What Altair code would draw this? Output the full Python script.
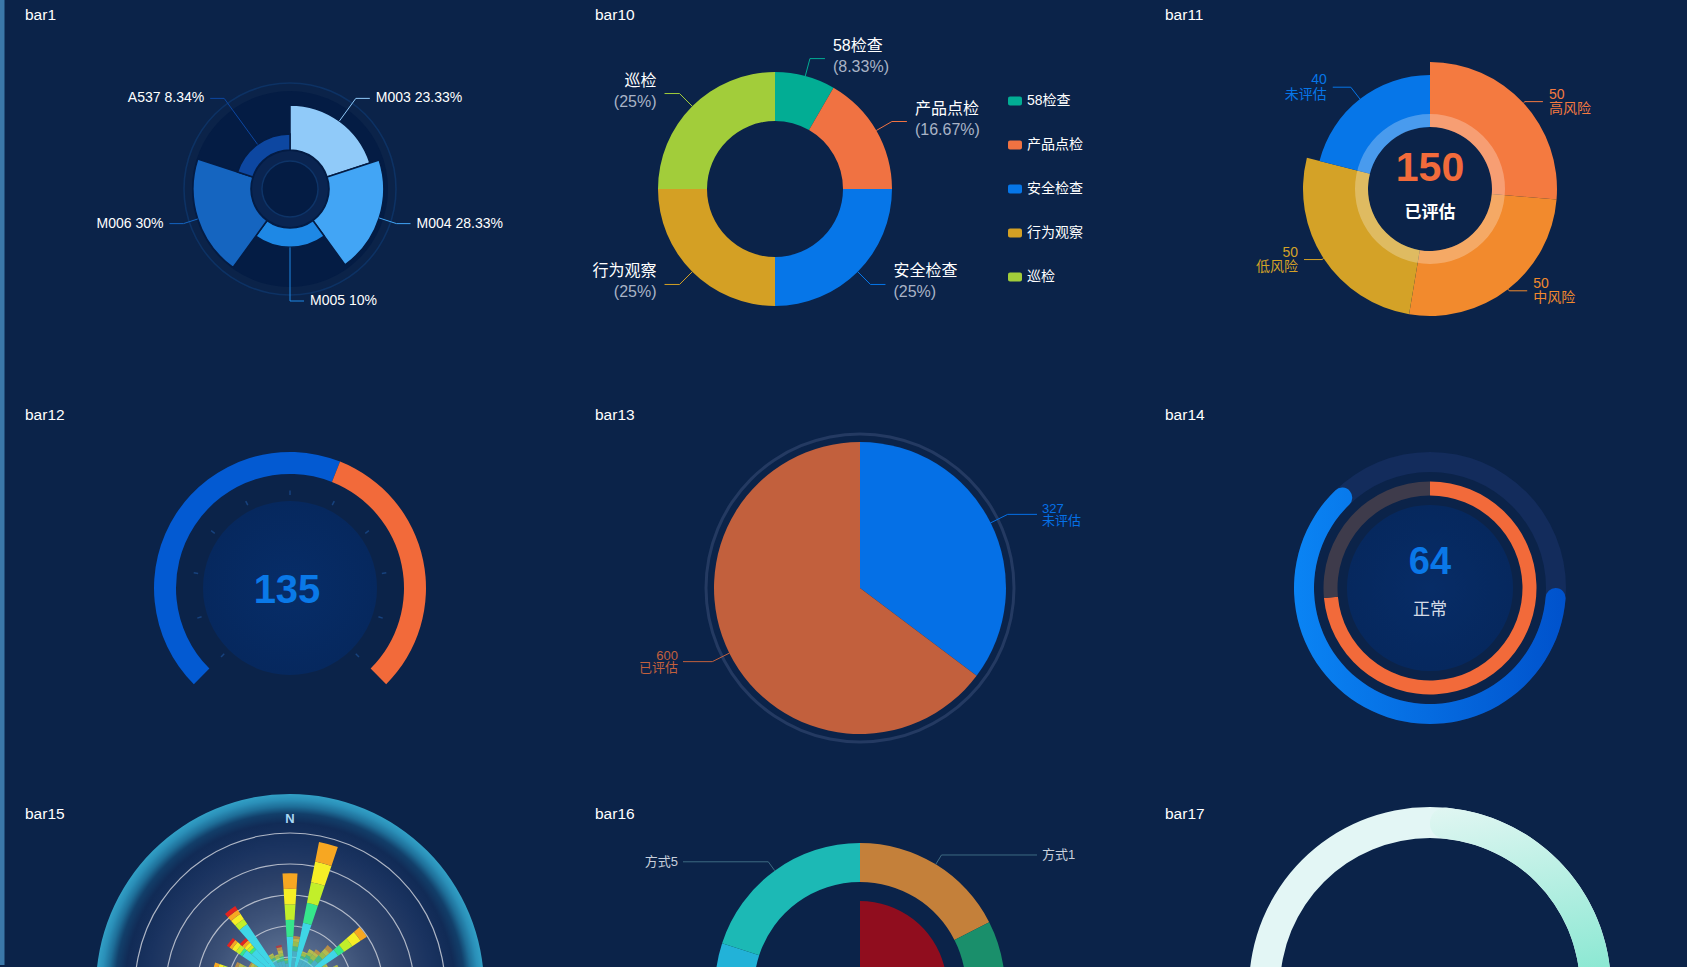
import math
import numpy as np
import pandas as pd
import altair as alt

# ---------------- data ----------------
titles = ["bar1", "bar10", "bar11", "bar12", "bar13", "bar14", "bar15", "bar16", "bar17"]

bar1_names = ["M003", "M004", "M005", "M006", "A537"]
bar1_pct = [23.33, 28.33, 10, 30, 8.34]

bar10_names = ["58检查", "产品点检", "安全检查", "行为观察", "巡检"]
bar10_vals = [1, 2, 3, 3, 3]

bar11_names = ["高风险", "中风险", "低风险", "未评估"]
bar11_vals = [50, 50, 50, 40]
bar11_total = 150
bar11_total_label = "已评估"

bar12_value = 135
bar12_parts = [58, 42]

bar13_names = ["未评估", "已评估"]
bar13_vals = [327, 600]

bar14_value = 64
bar14_label = "正常"
bar14_inner = [73.5, 26.5]

bar15_dirs = [-90, -82.5, -75, -67.5, -60, -52.5, -45, -37.5, -30, -22.5, -15, -7.5,
              0, 7.5, 15, 22.5, 30, 37.5, 45, 52.5, 60, 67.5, 75, 82.5, 90]
bar15_levels = [
    [0.2, 0.3, 0.6, 0.2, 0.1, 0.1, 0, 0],
    [0.2, 0.3, 0.8, 0.2, 0.1, 0.1, 0.1, 0],
    [0.2, 0.4, 1.4, 0.1, 0.15, 0.15, 0.15, 0],
    [0.2, 0.3, 0.8, 0.2, 0.15, 0.15, 0.1, 0],
    [0.2, 0.3, 0.6, 0.15, 0.1, 0.1, 0.05, 0],
    [0.2, 0.35, 1.3, 0.1, 0.15, 0.15, 0.1, 0.1],
    [0.2, 0.35, 1.1, 0.1, 0.1, 0.1, 0.1, 0.1],
    [0.25, 0.4, 1.83, 0, 0.2, 0.2, 0.16, 0.14],
    [0.2, 0.3, 0.5, 0.1, 0.1, 0.05, 0, 0],
    [0.2, 0.3, 0.4, 0.1, 0.1, 0.05, 0, 0],
    [0.2, 0.3, 0.4, 0.15, 0.1, 0.1, 0.1, 0.07],
    [0.2, 0.3, 0.3, 0.1, 0.05, 0, 0, 0],
    [0.2, 0.4, 1.05, 0.55, 0.5, 0.5, 0.5, 0],
    [0.2, 0.3, 0.7, 0.15, 0.15, 0.1, 0.08, 0],
    [0.25, 0.45, 1.45, 0.65, 0.68, 0.68, 0.64, 0],
    [0.2, 0.3, 0.5, 0.1, 0.1, 0.05, 0, 0],
    [0.2, 0.3, 0.6, 0.1, 0.1, 0.1, 0, 0],
    [0.2, 0.3, 0.5, 0.15, 0.15, 0.1, 0.1, 0],
    [0.2, 0.3, 0.7, 0.2, 0.15, 0.15, 0.14, 0],
    [0.25, 0.4, 1.22, 0.23, 0.32, 0.32, 0.24, 0],
    [0.2, 0.3, 0.6, 0.15, 0.1, 0.05, 0, 0],
    [0.2, 0.3, 0.8, 0.2, 0.1, 0.1, 0, 0],
    [0.2, 0.3, 0.5, 0.1, 0.1, 0, 0, 0],
    [0.2, 0.3, 0.6, 0.1, 0.1, 0.1, 0, 0],
    [0.2, 0.3, 0.5, 0.1, 0.05, 0, 0, 0],
]
bar15_ticks = [1, 2, 3, 4, 5]
bar15_axis_label = "N"

bar16_names = ["方式1", "方式2", "方式3", "方式4", "方式5"]
bar16_vals = [35, 40, 45, 40, 40]
bar16_inner = [42, 58]

bar17_value = 70

# ---------------- styles ----------------
W, H = 1687, 967
BG = "#0b2349"
FONT = "Liberation Sans, Noto Sans CJK SC, sans-serif"
TAU = 2 * math.pi
CX = [290, 860, 1430]
CY = [189, 588, 988]

P1 = ["#90caf9", "#42a5f5", "#1e88e5", "#1565c0", "#0d47a1"]
P10 = ["#02ad94", "#f07242", "#0676e8", "#d4a024", "#a2cd3a"]
P11 = ["#f47a40", "#f28a2d", "#d4a227", "#0676e8"]
P12 = ["#035ad2", "#f26a3a"]
P13 = ["#0570e6", "#c2603d"]
P15 = ["#0a2cf5", "#1e8cff", "#3fd6e6", "#36e68c", "#c2ef2a", "#f6ee26", "#f7a722", "#e3241f"]
P16 = ["#c4803a", "#1a8f6b", "#2d6f9e", "#22b2d8", "#1cb9b5"]

XS = alt.Scale(domain=[0, W], range=[0, W], nice=False, zero=False)
YS = alt.Scale(domain=[0, H], range=[0, H], nice=False, zero=False)
ONE = pd.DataFrame({"k": [0]})
layers = []


def X(f="x"):
    return alt.X(f + ":Q", scale=XS, axis=None)


def Y(f="y"):
    return alt.Y(f + ":Q", scale=YS, axis=None)


def ring(cx, cy, r0, r1, fill, a0=0.0, a1=TAU, **kw):
    layers.append(alt.Chart(ONE).mark_arc(radius=r1, radius2=r0, theta=a0, theta2=a1, fill=fill, **kw)
                  .encode(x=alt.value(cx), y=alt.value(cy)))


def cum(vals):
    c = np.concatenate([[0], np.cumsum(vals)])
    return c[:-1], c[1:]


def leaders(tag, cx, cy, mids, r0s, r1, cols, l2=15, gap=5, fixed=None):
    pts, txt = [], []
    for i, (m, r0, col) in enumerate(zip(mids, r0s, cols)):
        a = math.radians(m)
        sx, sy = math.sin(a), -math.cos(a)
        side = 1 if sx > -1e-9 else -1
        x0, y0 = cx + r0 * sx, cy + r0 * sy
        x1, y1 = cx + r1 * sx, cy + r1 * sy
        if fixed is None:
            x2 = x1 + side * l2
            tx = x2 + side * gap
        else:
            tx = cx + side * fixed
            x2 = tx - side * gap
        for k, (px, py) in enumerate([(x0, y0), (x1, y1), (x2, y1)]):
            pts.append({"lid": f"{tag}{i}", "k": k, "x": px, "y": py, "col": col})
        txt.append({"i": i, "x": tx, "y": y1, "side": side, "col": col})
    return pd.DataFrame(pts), txt


def line_layer(df, width=1.0):
    layers.append(alt.Chart(df).mark_line(strokeWidth=width).encode(
        x=X(), y=Y(), detail="lid:N", order="k:Q", color=alt.Color("col:N", scale=None)))


def text_layer(rows, size, weight="normal", color=None):
    df = pd.DataFrame(rows)
    df = df[df["y"] < H - 8]
    for side, align in [(1, "left"), (-1, "right"), (0, "center")]:
        sub = df[df["side"] == side]
        if len(sub) == 0:
            continue
        mk = dict(align=align, baseline="middle", font=FONT, fontSize=size, fontWeight=weight)
        enc = dict(x=X(), y=Y(), text="t:N")
        if color is None:
            enc["color"] = alt.Color("col:N", scale=None)
        else:
            mk["color"] = color
        layers.append(alt.Chart(sub).mark_text(**mk).encode(**enc))


# ---------------- strip ----------------
layers.append(alt.Chart(ONE).mark_rect(color="#3b78a9").encode(
    x=alt.value(0), x2=alt.value(4.5), y=alt.value(0), y2=alt.value(965)))

# ---------------- bar1 : nightingale rose ----------------
cx, cy = CX[0], CY[0]
n = len(bar1_names)
r_in, r_max = 39, 97
pmax = max(bar1_pct)
df1 = pd.DataFrame({"name": bar1_names, "pct": bar1_pct, "col": P1,
                    "c0": np.arange(n), "c1": np.arange(1, n + 1)})
ring(cx, cy, 105.2, 106.8, "#0d3264")
ring(cx, cy, 0, r_max + 1, "#041c44")
layers.append(alt.Chart(df1).mark_arc(stroke="#041c44", strokeWidth=1.5).encode(
    x=alt.value(cx), y=alt.value(cy),
    theta=alt.Theta("c0:Q", scale=alt.Scale(domain=[0, n], range=[0, TAU])),
    theta2="c1:Q",
    radius=alt.Radius("pct:Q", scale=alt.Scale(type="linear", domain=[0, pmax], range=[r_in, r_max],
                                               zero=False, nice=False)),
    radius2=alt.value(r_in),
    fill=alt.Fill("col:N", scale=None)))
ring(cx, cy, 28, 38, "#0a2450")
ring(cx, cy, 27.3, 28.8, "#0e3468")
mids = [(i + 0.5) * 360 / n for i in range(n)]
r0s = [r_in + (r_max - r_in) * p / pmax for p in bar1_pct]
ld, tx = leaders("a", cx, cy, mids, r0s, 112, P1, l2=14, gap=6)
line_layer(ld)
rows = [dict(t=f"{bar1_names[r['i']]} {bar1_pct[r['i']]:g}%", x=r["x"], y=r["y"], side=r["side"])
        for r in tx]
text_layer(rows, 14, color="#ffffff")

# ---------------- bar10 : donut ----------------
cx, cy = 775, CY[0]
tot = sum(bar10_vals)
c0, c1 = cum(bar10_vals)
df10 = pd.DataFrame({"name": bar10_names, "v": bar10_vals, "c0": c0, "c1": c1, "col": P10})
layers.append(alt.Chart(df10).mark_arc(radius=117, radius2=68).encode(
    x=alt.value(cx), y=alt.value(cy),
    theta=alt.Theta("c0:Q", scale=alt.Scale(domain=[0, tot], range=[0, TAU])),
    theta2="c1:Q", fill=alt.Fill("col:N", scale=None)))
mids = [(a + b) / 2 / tot * 360 for a, b in zip(c0, c1)]
ld, tx = leaders("b", cx, cy, mids, [117] * len(mids), 135, P10, l2=15, gap=8)
line_layer(ld)
rows1, rows2 = [], []
for r in tx:
    i = r["i"]
    pct = round(bar10_vals[i] / tot * 100, 2)
    rows1.append(dict(t=bar10_names[i], x=r["x"], y=r["y"] - 13, side=r["side"]))
    rows2.append(dict(t=f"({pct:g}%)", x=r["x"], y=r["y"] + 8, side=r["side"]))
text_layer(rows1, 16, color="#ffffff")
text_layer(rows2, 16, color="#a9b3c6")
lg = pd.DataFrame({"t": bar10_names, "col": P10, "i": range(len(bar10_names))})
lg["yc"] = cy + (lg["i"] - (len(lg) - 1) / 2) * 44
lg["y0"], lg["y1"] = lg["yc"] - 4.5, lg["yc"] + 4.5
lg["x0"], lg["x1"] = 1008, 1022
layers.append(alt.Chart(lg).mark_rect(cornerRadius=2).encode(
    x=X("x0"), x2="x1:Q", y=Y("y0"), y2="y1:Q", fill=alt.Fill("col:N", scale=None)))
lg["x"], lg["y"], lg["side"] = 1027, lg["yc"], 1
text_layer(lg[["t", "x", "y", "side"]].to_dict("records"), 14, color="#ffffff")

# ---------------- bar11 : rose donut ----------------
cx, cy = CX[2], CY[0]
tot = sum(bar11_vals)
vmax = max(bar11_vals)
c0, c1 = cum(bar11_vals)
df11 = pd.DataFrame({"name": bar11_names, "v": bar11_vals, "c0": c0, "c1": c1, "col": P11})
layers.append(alt.Chart(df11).mark_arc().encode(
    x=alt.value(cx), y=alt.value(cy),
    theta=alt.Theta("c0:Q", scale=alt.Scale(domain=[0, tot], range=[0, TAU])),
    theta2="c1:Q",
    radius=alt.Radius("v:Q", scale=alt.Scale(type="linear", domain=[0, vmax], range=[62, 127],
                                             zero=False, nice=False)),
    radius2=alt.value(62),
    fill=alt.Fill("col:N", scale=None)))
ring(cx, cy, 62, 75, "#ffffff", opacity=0.27)
mids = [(a + b) / 2 / tot * 360 for a, b in zip(c0, c1)]
r0s = [62 + 65 * v / vmax for v in bar11_vals]
ld, tx = leaders("c", cx, cy, mids, r0s, 129, P11, l2=18, gap=6)
line_layer(ld)
rows1, rows2 = [], []
for r in tx:
    i = r["i"]
    rows1.append(dict(t=str(bar11_vals[i]), x=r["x"], y=r["y"] - 7, side=r["side"], col=r["col"]))
    rows2.append(dict(t=bar11_names[i], x=r["x"], y=r["y"] + 7.5, side=r["side"], col=r["col"]))
text_layer(rows1, 14)
text_layer(rows2, 14)
text_layer([dict(t=str(bar11_total), x=cx, y=cy - 20, side=0)], 41, weight="bold", color="#f26b3b")
text_layer([dict(t=bar11_total_label, x=cx, y=cy + 24, side=0)], 17, weight="bold", color="#ffffff")

# ---------------- bar12 : gauge ----------------
cx, cy = CX[0], CY[1]
c0, c1 = cum(bar12_parts)
df12 = pd.DataFrame({"c0": c0, "c1": c1, "col": P12})
a_start, a_end = 1.25 * math.pi, 2.75 * math.pi
layers.append(alt.Chart(df12).mark_arc(radius=136, radius2=114).encode(
    x=alt.value(cx), y=alt.value(cy),
    theta=alt.Theta("c0:Q", scale=alt.Scale(domain=[0, sum(bar12_parts)], range=[a_start, a_end])),
    theta2="c1:Q", fill=alt.Fill("col:N", scale=None)))
tk = []
for k in range(11):
    a = math.radians(-135 + 27 * k)
    tk.append(dict(x=cx + 93 * math.sin(a), y=cy - 93 * math.cos(a),
                   x2=cx + 97.5 * math.sin(a), y2=cy - 97.5 * math.cos(a)))
layers.append(alt.Chart(pd.DataFrame(tk)).mark_rule(color="#17427e", strokeWidth=1.5).encode(
    x=X(), y=Y(), x2="x2:Q", y2="y2:Q"))
ring(cx, cy, 0, 87, {"gradient": "radial", "x1": 0.5, "y1": 0.5, "r1": 0, "x2": 0.5, "y2": 0.5, "r2": 0.5,
                     "stops": [{"offset": 0, "color": "#072d68"}, {"offset": 1, "color": "#06285e"}]})
text_layer([dict(t=str(bar12_value), x=cx - 3, y=cy + 3, side=0)], 40, weight="bold", color="#0a79e8")

# ---------------- bar13 : pie ----------------
cx, cy = CX[1], CY[1]
tot = sum(bar13_vals)
c0, c1 = cum(bar13_vals)
df13 = pd.DataFrame({"c0": c0, "c1": c1, "col": P13})
ring(cx, cy, 152.5, 155.5, "#243a62")
layers.append(alt.Chart(df13).mark_arc(radius=146).encode(
    x=alt.value(cx), y=alt.value(cy),
    theta=alt.Theta("c0:Q", scale=alt.Scale(domain=[0, tot], range=[0, TAU])),
    theta2="c1:Q", fill=alt.Fill("col:N", scale=None)))
mids = [(a + b) / 2 / tot * 360 for a, b in zip(c0, c1)]
ld, tx = leaders("d", cx, cy, mids, [146] * 2, 165, P13, fixed=182, gap=5)
line_layer(ld)
rows1, rows2 = [], []
for r in tx:
    i = r["i"]
    rows1.append(dict(t=str(bar13_vals[i]), x=r["x"], y=r["y"] - 5.5, side=r["side"], col=r["col"]))
    rows2.append(dict(t=bar13_names[i], x=r["x"], y=r["y"] + 6.5, side=r["side"], col=r["col"]))
text_layer(rows1, 13)
text_layer(rows2, 13)

# ---------------- bar14 : rings ----------------
cx, cy = CX[2], CY[1]
ring(cx, cy, 116, 136, "#132c5c")
df14 = pd.DataFrame({"c0": [0], "c1": [bar14_value]})
layers.append(alt.Chart(df14).mark_arc(
    radius=136, radius2=116, cornerRadius=10,
    fill={"gradient": "linear", "x1": 0, "y1": 0.5, "x2": 1, "y2": 0.5,
          "stops": [{"offset": 0, "color": "#0a84f4"}, {"offset": 1, "color": "#0052cc"}]}).encode(
    x=alt.value(cx), y=alt.value(cy),
    theta=alt.Theta("c0:Q", scale=alt.Scale(domain=[0, 100], range=[0.5 * math.pi, 2.5 * math.pi])),
    theta2="c1:Q"))
c0, c1 = cum(bar14_inner)
df14b = pd.DataFrame({"c0": c0, "c1": c1, "col": ["#f26a3a", "#3e3b4b"]})
layers.append(alt.Chart(df14b).mark_arc(radius=106.5, radius2=92.5).encode(
    x=alt.value(cx), y=alt.value(cy),
    theta=alt.Theta("c0:Q", scale=alt.Scale(domain=[0, sum(bar14_inner)], range=[0, TAU])),
    theta2="c1:Q", fill=alt.Fill("col:N", scale=None)))
ring(cx, cy, 0, 83, {"gradient": "radial", "x1": 0.5, "y1": 0.5, "r1": 0, "x2": 0.5, "y2": 0.5, "r2": 0.5,
                     "stops": [{"offset": 0, "color": "#072c66"}, {"offset": 1, "color": "#06285e"}]})
text_layer([dict(t=str(bar14_value), x=cx, y=cy - 25, side=0)], 38, weight="bold", color="#0a78e8")
text_layer([dict(t=bar14_label, x=cx, y=cy + 22, side=0)], 17, color="#d5dbe6")

# ---------------- bar15 : wind rose ----------------
cx, cy = CX[0], CY[2]
ring(cx, cy, 0, 194, {"gradient": "radial", "x1": 0.5, "y1": 0.5, "r1": 0, "x2": 0.5, "y2": 0.5, "r2": 0.5,
                      "stops": [{"offset": 0, "color": "#6a7e9e"},
                                {"offset": 0.21, "color": "#566b8d"},
                                {"offset": 0.39, "color": "#3d5278"},
                                {"offset": 0.56, "color": "#2b4068"},
                                {"offset": 0.73, "color": "#1a3360"},
                                {"offset": 0.85, "color": "#112b56"},
                                {"offset": 0.9, "color": "#123f6a"},
                                {"offset": 0.935, "color": "#1e6e98"},
                                {"offset": 0.97, "color": "#2a8fb8"},
                                {"offset": 1, "color": "#32a0c6"}]})
rmax15 = max(bar15_ticks)
for t in bar15_ticks:
    rr = 155 * t / rmax15
    ring(cx, cy, rr - 0.6, rr + 0.6, "#c9ced8", opacity=0.85)
rows = []
for d, levels in zip(bar15_dirs, bar15_levels):
    acc = 0.0
    total = sum(levels)
    for j, v in enumerate(levels):
        if v <= 0:
            continue
        rows.append(dict(a0=(d - 3.75) % 360, a1=(d - 3.75) % 360 + 7.5, r0=acc, r1=acc + v, col=P15[j],
                         op=1.0 if total >= 2 else 0.62))
        acc += v
df15 = pd.DataFrame(rows)
layers.append(alt.Chart(df15).mark_arc().encode(
    x=alt.value(cx), y=alt.value(cy),
    theta=alt.Theta("a0:Q", scale=alt.Scale(domain=[0, 360], range=[0, TAU])),
    theta2="a1:Q",
    radius=alt.Radius("r1:Q", scale=alt.Scale(type="linear", domain=[0, rmax15], range=[0, 155],
                                              zero=False, nice=False)),
    radius2="r0:Q",
    fill=alt.Fill("col:N", scale=None),
    opacity=alt.Opacity("op:Q", scale=None)))
text_layer([dict(t=bar15_axis_label, x=cx, y=cy - 169, side=0)], 13, weight="bold", color="#a8d8f5")

# ---------------- bar16 : nested pie ----------------
cx, cy = CX[1], CY[2]
tot = sum(bar16_vals)
c0, c1 = cum(bar16_vals)
df16 = pd.DataFrame({"c0": c0, "c1": c1, "col": P16})
layers.append(alt.Chart(df16).mark_arc(radius=145, radius2=106).encode(
    x=alt.value(cx), y=alt.value(cy),
    theta=alt.Theta("c0:Q", scale=alt.Scale(domain=[0, tot], range=[0, TAU])),
    theta2="c1:Q", fill=alt.Fill("col:N", scale=None)))
df16b = pd.DataFrame({"c0": [0], "c1": [bar16_inner[0]]})
layers.append(alt.Chart(df16b).mark_arc(radius=87, fill="#900d1e").encode(
    x=alt.value(cx), y=alt.value(cy),
    theta=alt.Theta("c0:Q", scale=alt.Scale(domain=[0, sum(bar16_inner)], range=[0, TAU])),
    theta2="c1:Q"))
mids = [(a + b) / 2 / tot * 360 for a, b in zip(c0, c1)]
ld, tx = leaders("e", cx, cy, mids, [145] * len(mids), 156, ["#3d6a82"] * len(mids), fixed=182, gap=5)
line_layer(ld)
rows = [dict(t=bar16_names[r["i"]], x=r["x"], y=r["y"], side=r["side"]) for r in tx]
text_layer(rows, 13, color="#c8d0dc")

# ---------------- bar17 : progress ring ----------------
cx, cy = CX[2], CY[2]
ring(cx, cy, 150, 181, "#e3f6f5")
df17 = pd.DataFrame({"c0": [0], "c1": [bar17_value]})
layers.append(alt.Chart(df17).mark_arc(
    radius=181, radius2=150, cornerRadius=15,
    fill={"gradient": "linear", "x1": 0.5, "y1": 0, "x2": 0.6, "y2": 0.65,
          "stops": [{"offset": 0, "color": "#e0f6f2"}, {"offset": 1, "color": "#74e4ca"}]}).encode(
    x=alt.value(cx), y=alt.value(cy),
    theta=alt.Theta("c0:Q", scale=alt.Scale(domain=[0, 100], range=[0, TAU])),
    theta2="c1:Q"))

# ---------------- titles ----------------
trows = [dict(t=t, x=25 + 570 * (k % 3), y=15 + 399.5 * (k // 3), side=1) for k, t in enumerate(titles)]
text_layer(trows, 15.5, color="#ffffff")

chart = alt.layer(*layers).resolve_scale(theta="independent", radius="independent").properties(
    width=W, height=H, background=BG, padding=0,
    autosize=alt.AutoSizeParams(type="none")).configure_view(stroke=None)

chart.save("out.html", embed_options={"renderer": "svg", "actions": False})
